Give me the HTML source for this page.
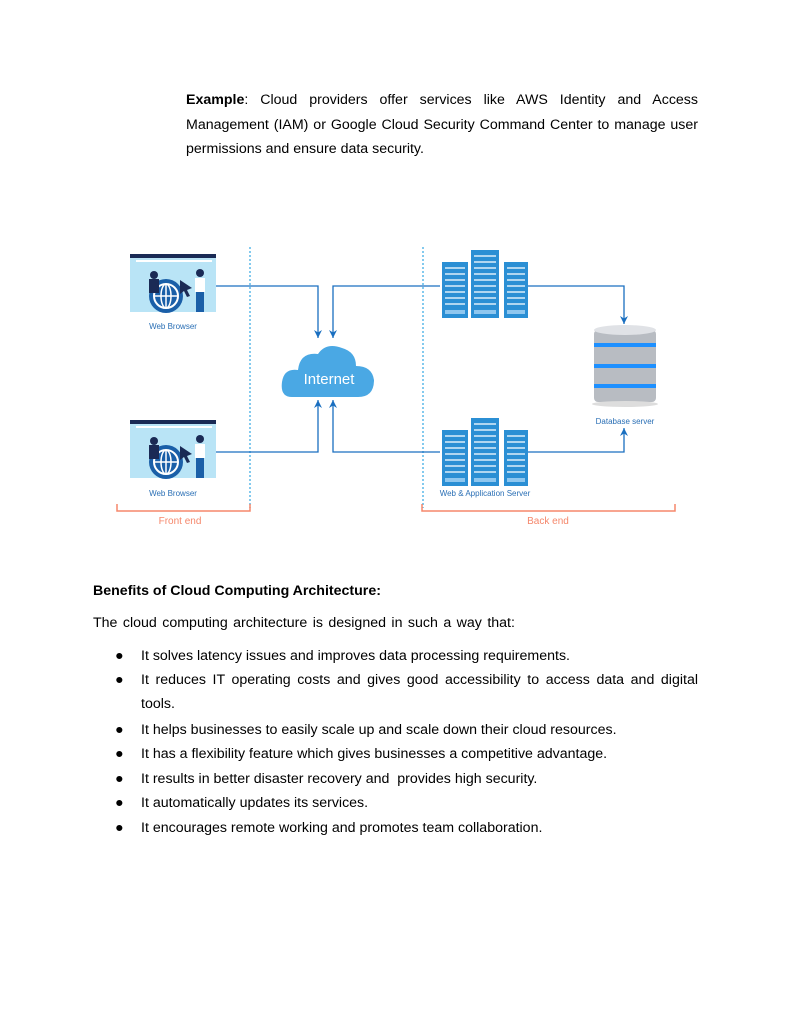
<!DOCTYPE html>
<html><head><meta charset="utf-8">
<style>
body{margin:0;background:#fff;}
#p{position:relative;width:792px;height:1024px;font-family:"Liberation Sans",Arial,sans-serif;color:#000;font-size:14.2px;}
.t{position:absolute;white-space:nowrap;}
.j{position:absolute;left:186px;width:512px;text-align:justify;text-align-last:justify;}
.b{position:absolute;left:115px;}
</style></head><body><div id="p">
<div class="j" style="top:92px"><b>Example</b>: Cloud providers offer services like AWS Identity and Access</div>
<div class="j" style="top:117px">Management (IAM) or Google Cloud Security Command Center to manage user</div>
<div class="t" style="left:186px;top:141px">permissions and ensure data security.</div>

<svg style="position:absolute;left:0;top:0" width="792" height="560">
<defs>
<g id="br">
<rect x="0" y="0" width="86" height="58" fill="#b9e4f6"/>
<rect x="0" y="0" width="86" height="4" fill="#1a2a55"/>
<rect x="6" y="6" width="76" height="2" fill="#fff"/>
<circle cx="36" cy="42" r="17" fill="#1a5fa8"/>
<circle cx="36" cy="42" r="12" fill="none" stroke="#fff" stroke-width="2"/>
<ellipse cx="36" cy="42" rx="5" ry="12" fill="none" stroke="#fff" stroke-width="1.5"/>
<line x1="24" y1="42" x2="48" y2="42" stroke="#fff" stroke-width="1.5"/>
<line x1="36" y1="30" x2="36" y2="54" stroke="#fff" stroke-width="1.5"/>
<circle cx="24" cy="21" r="4" fill="#1a2a55"/>
<rect x="19" y="25" width="10" height="14" fill="#1a2a55"/>
<circle cx="70" cy="19" r="4" fill="#1a2a55"/>
<rect x="65" y="24" width="10" height="14" fill="#fff"/>
<rect x="66" y="38" width="8" height="20" fill="#1a5fa8"/>
<path d="M50 26 L62 34 L57 36 L60 42 L57 43 L54 37 L50 40Z" fill="#1a2a55"/>
</g>
<g id="sv">
<rect x="0" y="12" width="26" height="56" fill="#2b8fd4"/>
<rect x="29" y="0" width="28" height="68" fill="#2b8fd4"/>
<rect x="62" y="12" width="24" height="56" fill="#2b8fd4"/>
<g stroke="#dceefa" stroke-width="1.5">
<path d="M3 18h20M3 24h20M3 30h20M3 36h20M3 42h20M3 48h20M3 54h20"/>
<path d="M32 6h22M32 12h22M32 18h22M32 24h22M32 30h22M32 36h22M32 42h22M32 48h22M32 54h22"/>
<path d="M65 18h18M65 24h18M65 30h18M65 36h18M65 42h18M65 48h18M65 54h18"/>
</g>
<rect x="3" y="60" width="20" height="4" fill="#8fc7ef"/><rect x="32" y="60" width="22" height="4" fill="#8fc7ef"/><rect x="65" y="60" width="18" height="4" fill="#8fc7ef"/>
</g>
<marker id="a" markerWidth="9" markerHeight="9" refX="8" refY="4" orient="auto" markerUnits="userSpaceOnUse"><path d="M0 0 L8 4 L0 8 L2.5 4Z" fill="#1a6fc0"/></marker>
</defs>
<use href="#br" x="130" y="254"/>
<use href="#br" x="130" y="420"/>
<line x1="250" y1="247" x2="250" y2="508" stroke="#5bb8e8" stroke-width="1.5" stroke-dasharray="2,2"/>
<line x1="423" y1="247" x2="423" y2="508" stroke="#5bb8e8" stroke-width="1.5" stroke-dasharray="2,2"/>
<g fill="none" stroke="#1a6fc0" stroke-width="1.3">
<path d="M216 286H318V338" marker-end="url(#a)"/>
<path d="M440 286H333V338" marker-end="url(#a)"/>
<path d="M216 452H318V400" marker-end="url(#a)"/>
<path d="M440 452H333V400" marker-end="url(#a)"/>
<path d="M528 286H624V324" marker-end="url(#a)"/>
<path d="M528 452H624V428" marker-end="url(#a)"/>
</g>
<use href="#sv" x="442" y="250"/>
<use href="#sv" x="442" y="418"/>
<path d="M292 397 Q280 397 282 382 Q284 368 298 370 Q300 352 318 354 Q326 342 342 348 Q356 352 356 366 Q372 366 374 380 Q374 397 358 397Z" fill="#4aa8e4"/>
<text x="329" y="384" font-family="Liberation Sans,sans-serif" font-size="15" fill="#fff" text-anchor="middle">Internet</text>
<g>
<rect x="594" y="330" width="62" height="72" rx="4" fill="#b8bcc2"/>
<ellipse cx="625" cy="330" rx="31" ry="5" fill="#e0e2e6"/>
<rect x="594" y="343" width="62" height="4" fill="#1e90ff"/>
<rect x="594" y="364" width="62" height="4" fill="#1e90ff"/>
<rect x="594" y="384" width="62" height="4" fill="#1e90ff"/>
<ellipse cx="625" cy="404" rx="33" ry="3" fill="#ddd"/>
</g>
<g font-family="Liberation Sans,sans-serif" font-size="8" fill="#2a6fb5" text-anchor="middle">
<text x="173" y="329">Web Browser</text>
<text x="173" y="496">Web Browser</text>
<text x="485" y="496">Web &amp; Application Server</text>
<text x="625" y="424">Database server</text>
</g>
<g fill="none" stroke="#f5876b" stroke-width="1.5">
<path d="M117 504V511H250V504"/>
<path d="M422 504V511H675V504"/>
</g>
<g font-family="Liberation Sans,sans-serif" font-size="10" fill="#f5876b" text-anchor="middle">
<text x="180" y="524">Front end</text>
<text x="548" y="524">Back end</text>
</g>
</svg>

<div class="t" style="left:93px;top:583px"><b>Benefits of Cloud Computing Architecture:</b></div>
<div class="t" style="left:93px;top:615px;word-spacing:1.5px">The cloud computing architecture is designed in such a way that:</div>
<div class="b" style="top:648px">●</div><div class="t" style="left:141px;top:648px">It solves latency issues and improves data processing requirements.</div>
<div class="b" style="top:672px">●</div><div class="j" style="left:141px;width:557px;top:672px">It reduces IT operating costs and gives good accessibility to access data and digital</div>
<div class="t" style="left:141px;top:696px">tools.</div>
<div class="b" style="top:722px">●</div><div class="t" style="left:141px;top:722px">It helps businesses to easily scale up and scale down their cloud resources.</div>
<div class="b" style="top:746px">●</div><div class="t" style="left:141px;top:746px">It has a flexibility feature which gives businesses a competitive advantage.</div>
<div class="b" style="top:771px">●</div><div class="t" style="left:141px;top:771px">It results in better disaster recovery and &nbsp;provides high security.</div>
<div class="b" style="top:795px">●</div><div class="t" style="left:141px;top:795px">It automatically updates its services.</div>
<div class="b" style="top:820px">●</div><div class="t" style="left:141px;top:820px">It encourages remote working and promotes team collaboration.</div>
</div></body></html>
